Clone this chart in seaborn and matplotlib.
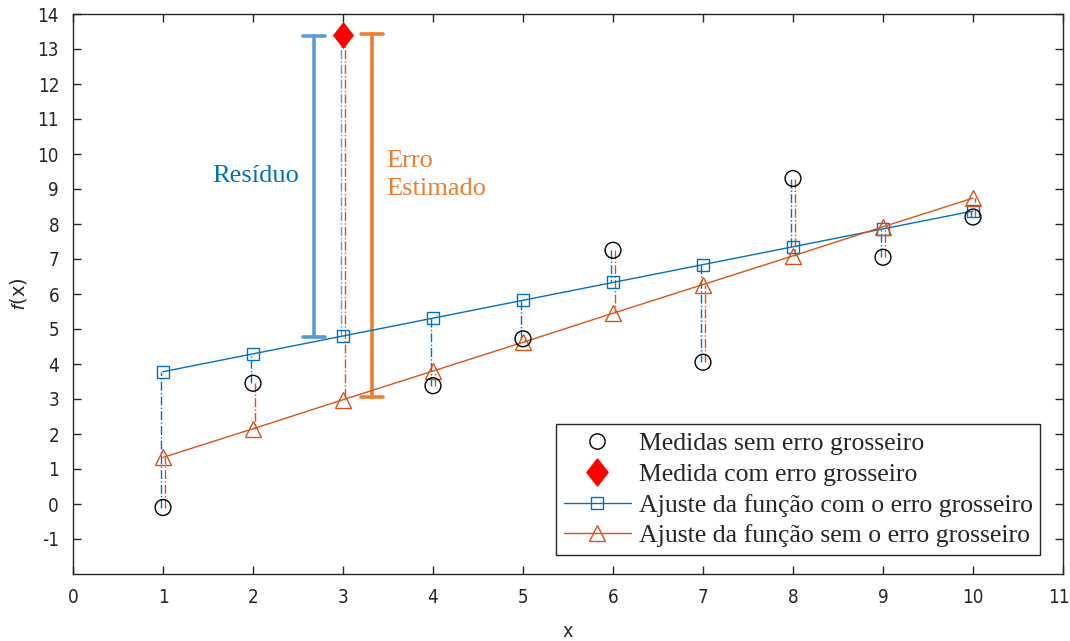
import matplotlib
matplotlib.use("Agg")
import matplotlib.pyplot as plt
import matplotlib.transforms as mtransforms
import seaborn as sns
import numpy as np
import pandas as pd
from matplotlib.path import Path
from matplotlib.lines import Line2D

# ---- data ----
x_vals = [1, 2, 3, 4, 5, 6, 7, 8, 9, 10]
medidas = [-0.1, 3.45, 13.4, 3.38, 4.72, 7.25, 4.05, 9.3, 7.05, 8.2]
outlier_index = 2  # x = 3 is the gross-error measurement
fit_com = [3.78, 4.29, 4.80, 5.31, 5.82, 6.33, 6.84, 7.35, 7.86, 8.37]
fit_sem = [1.33, 2.15, 2.98, 3.80, 4.62, 5.45, 6.27, 7.09, 7.92, 8.74]
residuo_x, residuo_lo, residuo_hi = 2.68, 4.78, 13.38
erro_x, erro_lo, erro_hi = 3.32, 3.06, 13.42
x_ticks = list(range(0, 12))
y_ticks = list(range(-1, 15))

legend_labels = ["Medidas sem erro grosseiro", "Medida com erro grosseiro",
                 "Ajuste da função com o erro grosseiro",
                 "Ajuste da função sem o erro grosseiro"]

BLUE = "#0072BD"
LBLUE = "#5B9BD5"
ORANGE = "#D95319"
LORANGE = "#ED7D31"

sns.set_style("ticks")
plt.rcParams['font.family'] = ['Liberation Sans Narrow', 'DejaVu Sans', 'Liberation Sans']
plt.rcParams['axes.unicode_minus'] = False
plt.rcParams['mathtext.fontset'] = 'custom'
plt.rcParams['mathtext.it'] = 'Liberation Sans:italic'
plt.rcParams['mathtext.rm'] = 'Liberation Sans'

diamond = Path([(0, 0.5), (0.39, 0), (0, -0.5), (-0.39, 0), (0, 0.5)],
               [Path.MOVETO, Path.LINETO, Path.LINETO, Path.LINETO, Path.CLOSEPOLY])

fig = plt.figure(figsize=(10.7, 6.41), dpi=100)
ax = fig.add_axes([73/1070, 1-574/641, (1063-73)/1070, (574-14)/641])

df = pd.DataFrame({"x": x_vals, "med": medidas, "com": fit_com, "sem": fit_sem})
normal = df.drop(index=outlier_index)
outl = df.iloc[[outlier_index]]

# residual lines (dash-dot)
off = 0.018
for xi, m, c, s in zip(x_vals, medidas, fit_com, fit_sem):
    ax.plot([xi - off, xi - off], [m, c], linestyle='-.', color=LBLUE if xi == 3 else BLUE,
            lw=1.0, zorder=2)
    ax.plot([xi + off, xi + off], [m, s], linestyle='-.', color=ORANGE, lw=1.0, zorder=2)

# fit lines
sns.lineplot(data=df, x="x", y="com", ax=ax, color=BLUE, lw=1.0, marker='s',
             markersize=8, markerfacecolor='none', markeredgecolor=BLUE,
             markeredgewidth=1.0, zorder=3)
sns.lineplot(data=df, x="x", y="sem", ax=ax, color=ORANGE, lw=1.0, marker='^',
             markersize=11, markerfacecolor='none', markeredgecolor=ORANGE,
             markeredgewidth=1.0, zorder=3)

# measurements
sns.scatterplot(data=normal, x="x", y="med", ax=ax, marker='o', s=130,
                facecolor='none', edgecolor='black', linewidth=1.0, zorder=4)
sns.scatterplot(data=outl, x="x", y="med", ax=ax, marker=diamond, s=380,
                color='red', edgecolor='red', linewidth=0, zorder=5)

# I-beams
cap = 0.12
ax.plot([residuo_x, residuo_x], [residuo_lo, residuo_hi], color=LBLUE, lw=2.6, zorder=2)
for yv in (residuo_lo, residuo_hi):
    ax.plot([residuo_x - cap, residuo_x + cap], [yv, yv], color=LBLUE, lw=2.6, zorder=2)
ax.plot([erro_x, erro_x], [erro_lo, erro_hi], color=LORANGE, lw=2.6, zorder=2)
for yv in (erro_lo, erro_hi):
    ax.plot([erro_x - cap, erro_x + cap], [yv, yv], color=LORANGE, lw=2.6, zorder=2)

serif = ['Liberation Serif', 'DejaVu Serif']
ax.text(2.03, 9.38, "Resíduo", color=BLUE, fontsize=19, family=serif,
        ha='center', va='center')
ax.text(3.48, 9.4, "Erro\nEstimado", color=LORANGE, fontsize=19, family=serif,
        ha='left', va='center', linespacing=1.35)

ax.set_xlim(0, 11)
ax.set_ylim(-2, 14)
ax.set_xticks(x_ticks)
ax.set_yticks(y_ticks)
ax.tick_params(direction='in', top=True, right=True, labelsize=13.5, length=6,
               width=1.0, color='#262626', labelcolor='#262626', pad=10)
for lbl in ax.get_xticklabels() + ax.get_yticklabels():
    lbl.set_fontstretch('condensed')
# keep the last x tick label inside the figure edge
last = ax.get_xticklabels()[-1]
last.set_transform(last.get_transform() +
                   mtransforms.ScaledTranslation(-4/100, 0, fig.dpi_scale_trans))
for sp in ax.spines.values():
    sp.set_visible(True)
    sp.set_linewidth(1.0)
    sp.set_color('#262626')
ax.set_xlabel("x", fontsize=14, color='#262626', labelpad=11, fontstretch='condensed')
ax.set_ylabel("$f$(x)", fontsize=14, color='#262626', labelpad=6)

handles = [
    Line2D([], [], linestyle='none', marker='o', markersize=11, markerfacecolor='none',
           markeredgecolor='black'),
    Line2D([], [], linestyle='none', marker=diamond, markersize=19.5, color='red'),
    Line2D([], [], color=BLUE, lw=1.0, marker='s', markersize=8, markerfacecolor='none',
           markeredgecolor=BLUE),
    Line2D([], [], color=ORANGE, lw=1.0, marker='^', markersize=11, markerfacecolor='none',
           markeredgecolor=ORANGE),
]
leg = ax.legend(handles, legend_labels, loc='lower right', bbox_to_anchor=(0.977, 0.034),
                prop={'family': serif, 'size': 18.5}, frameon=True, fancybox=False,
                edgecolor='#262626', framealpha=1, borderpad=0.3, labelspacing=0.3,
                handlelength=2.6, handletextpad=0.3, borderaxespad=0)
leg.get_frame().set_linewidth(1.0)

fig.savefig("out.png", dpi=100)
